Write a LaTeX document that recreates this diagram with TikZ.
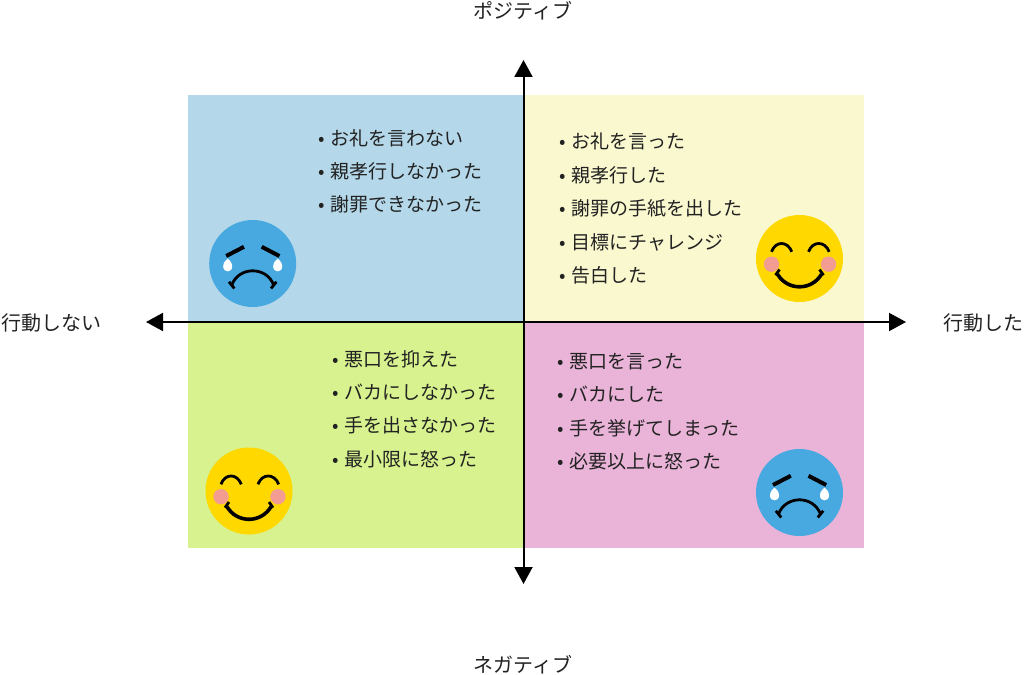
\documentclass[tikz,border=0pt]{standalone}
\usepackage{fontspec}
\setmainfont{Noto Sans CJK JP}
\usetikzlibrary{arrows.meta}
\definecolor{quadblue}{HTML}{B4D8EA}
\definecolor{quadyellow}{HTML}{FAF8CF}
\definecolor{quadgreen}{HTML}{D7F28E}
\definecolor{quadpink}{HTML}{EAB3D8}
\definecolor{faceblue}{HTML}{48A9E1}
\definecolor{faceyellow}{HTML}{FFD800}
\definecolor{cheek}{HTML}{F29C92}
\definecolor{inkgray}{HTML}{222222}
\tikzset{
	axis/.style={line width=2pt,{Triangle[length=17pt,width=18pt]}-{Triangle[length=17pt,width=18pt]}},
	listitem/.style={anchor=west,inner sep=0pt,text=inkgray,font=\fontsize{19}{19}\selectfont},
	axislabel/.style={inner sep=0pt,text=inkgray,font=\fontsize{20}{20}\selectfont},
	feature/.style={line width=2.8pt,black},
	pics/cryface/.style={code={
		\fill[faceblue] (0,0) circle (43.5);
		% brows
		\draw[feature,line width=4pt] (-26.5,-7.5) -- (-8.7,-16.7);
		\draw[feature,line width=4pt] (9,-16.7) -- (26.7,-7.5);
		% tears
		\fill[white] (-25,-5) .. controls (-27,-3) and (-29.5,-1) .. (-29.5,3) .. controls (-29.5,9.5) and (-20.5,9.5) .. (-20.5,3) .. controls (-20.5,-1) and (-23,-3) .. (-25,-5);
		\fill[white] (25,-5) .. controls (23,-3) and (20.5,-1) .. (20.5,3) .. controls (20.5,9.5) and (29.5,9.5) .. (29.5,3) .. controls (29.5,-1) and (27,-3) .. (25,-5);
		% mouth
		\draw[feature] (-21,21.7) .. controls (-14,2.5) and (14,2.5) .. (21,21.7);
		\draw[feature] (-23.7,18.3) -- (-18.3,25);
		\draw[feature] (23.7,18.3) -- (18.3,25);
	}},
	pics/smileface/.style={code={
		\fill[faceyellow] (0,0) circle (43.5);
		% eyes
		\draw[feature] (-28,-6.7) .. controls (-24,-17.8) and (-12,-17.8) .. (-7.7,-6.7);
		\draw[feature] (9,-6.7) .. controls (13,-17.8) and (25.5,-17.8) .. (29.7,-6.7);
		% cheeks
		\fill[cheek] (-28,5.7) circle (7.7);
		\fill[cheek] (29,5.7) circle (7.7);
		% mouth
		\draw[feature,line width=3.6pt] (-22,15.7) .. controls (-12,32.5) and (12,32.5) .. (22,15.7);
		\draw[feature] (-20,11) -- (-24,16.7);
		\draw[feature] (20,11) -- (24,16.7);
	}}
}
\begin{document}
\begin{tikzpicture}[x=1pt,y=-1pt]
	\useasboundingbox (0,0) rectangle (1024,674);
	% Quadrants
	\fill[quadblue] (188,95) rectangle (523.5,322);
	\fill[quadyellow] (523.5,95) rectangle (864,322);
	\fill[quadgreen] (188,322) rectangle (523.5,548);
	\fill[quadpink] (523.5,322) rectangle (864,548);
	% Axes
	\coordinate (west) at (146,322);
	\coordinate (east) at (906,322);
	\coordinate (north) at (523.5,60);
	\coordinate (south) at (523.5,584);
	\draw[axis] (west) -- (east);
	\draw[axis] (south) -- (north);
	% Axis labels
	\node[axislabel] (positive) at (523,10.5) {ポジティブ};
	\node[axislabel] (negative) at (523,664.5) {ネガティブ};
	\node[axislabel,anchor=west] (noaction) at (1,322.5) {行動しない};
	\node[axislabel,anchor=east] (action) at (1024,322.5) {行動した};
	% Lists
	\foreach \y/\txt [count=\i] in {138/お礼を言わない,171/親孝行しなかった,204/謝罪できなかった}
		\node[listitem] (tl\i) at (318,\y.5) {•\hspace{6pt}\txt};
	\foreach \y/\txt [count=\i] in {141/お礼を言った,175/親孝行した,208/謝罪の手紙を出した,242/目標にチャレンジ,275/告白した}
		\node[listitem] (tr\i) at (559,\y.5) {•\hspace{6pt}\txt};
	\foreach \y/\txt [count=\i] in {359/悪口を抑えた,392/バカにしなかった,425/手を出さなかった,459/最小限に怒った}
		\node[listitem] (bl\i) at (332,\y.5) {•\hspace{6pt}\txt};
	\foreach \y/\txt [count=\i] in {361/悪口を言った,394/バカにした,428/手を挙げてしまった,461/必要以上に怒った}
		\node[listitem] (br\i) at (557,\y.5) {•\hspace{6pt}\txt};
	% Faces
	\pic at (252.7,263.5) {cryface};
	\pic at (799.5,258.5) {smileface};
	\pic at (249,491) {smileface};
	\pic at (799.5,492.5) {cryface};
\end{tikzpicture}
\end{document}
